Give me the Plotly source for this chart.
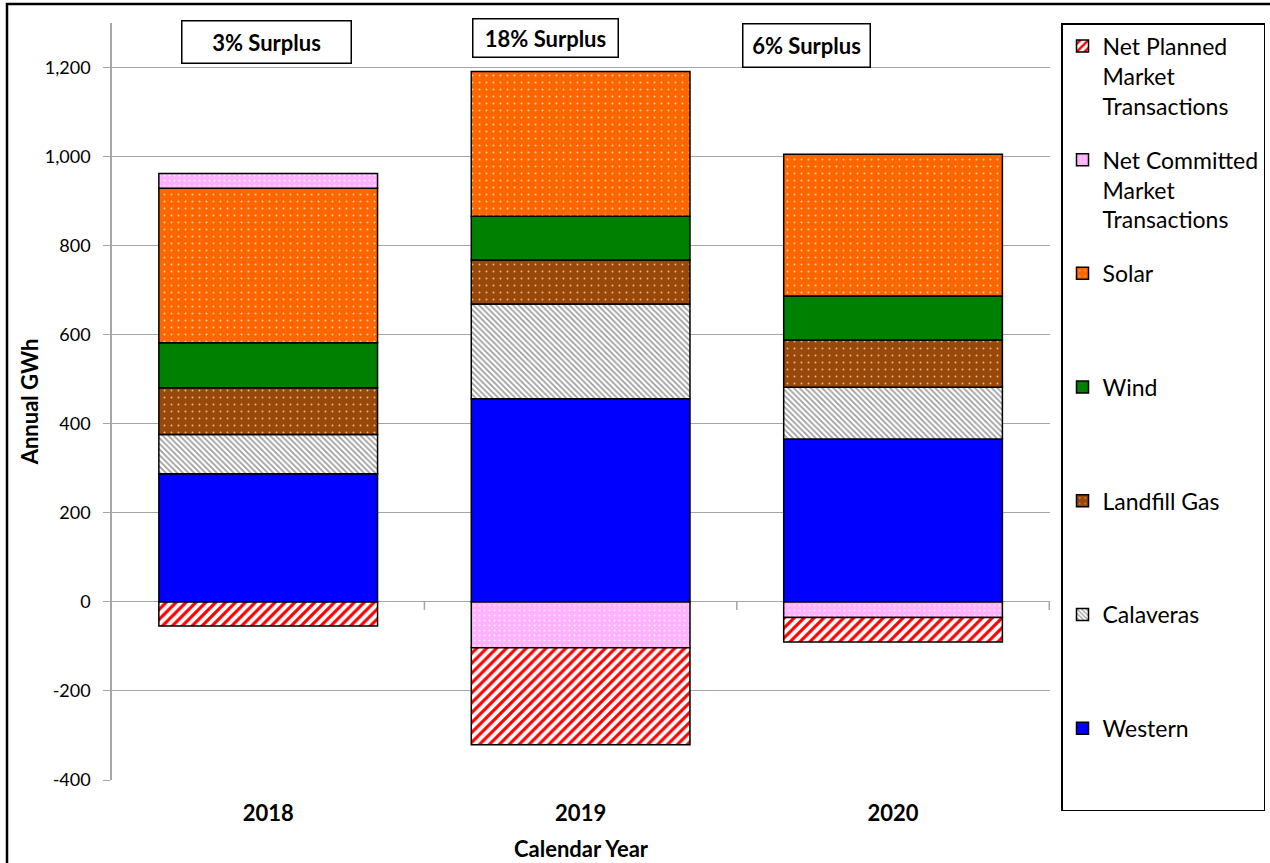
import plotly.graph_objects as go

years = ["2018", "2019", "2020"]

western = [288, 456, 366]
calaveras = [88, 213, 116]
landfill_gas = [105, 99, 106]
wind = [101, 98, 99]
solar = [347, 325, 318]
net_committed = [33, -103, -35]
net_planned = [-54, -218, -55]

surplus_labels = ["3% Surplus", "18% Surplus", "6% Surplus"]

y_tickvals = [-400, -200, 0, 200, 400, 600, 800, 1000, 1200]
y_ticktext = ["-400", "-200", "0", "200", "400", "600", "800", "1,000", "1,200"]

FONT = "Lato"
NB = "\u00a0"
PAD = "<br>" + NB + "<br>" + NB

series = [
    ("Western" + PAD, western,
     dict(color="#0000FF")),
    ("Calaveras" + PAD, calaveras,
     dict(color="#FFFFFF", pattern=dict(shape="\\", fgcolor="#9A9A9A", bgcolor="#FFFFFF", size=4, solidity=0.4, fillmode="replace"))),
    ("Landfill Gas" + PAD, landfill_gas,
     dict(color="#984808", pattern=dict(shape=".", fgcolor="#E8B890", bgcolor="#984808", size=7, solidity=0.06, fillmode="replace"))),
    ("Wind" + PAD, wind,
     dict(color="#008000")),
    ("Solar" + PAD, solar,
     dict(color="#FF6600", pattern=dict(shape=".", fgcolor="#FFD0A0", bgcolor="#FF6600", size=7, solidity=0.06, fillmode="replace"))),
    ("Net Committed<br>Market<br>Transactions", net_committed,
     dict(color="#FFB0FF", pattern=dict(shape=".", fgcolor="#FFE6FF", bgcolor="#FFB0FF", size=5, solidity=0.15, fillmode="replace"))),
    ("Net Planned<br>Market<br>Transactions", net_planned,
     dict(color="#FFFFFF", pattern=dict(shape="/", fgcolor="#FF0000", bgcolor="#FFFFFF", size=7, solidity=0.45, fillmode="replace"))),
]

fig = go.Figure()
n = len(series)
for i, (name, vals, marker) in enumerate(series):
    m = dict(marker)
    m["line"] = dict(color="#000000", width=1.5)
    fig.add_trace(go.Bar(
        x=years, y=vals, name=name, marker=m, legendgroup="g%d" % i,
        legendrank=n - i, width=0.7,
    ))

W, H = 1270, 863
L, R, T, B = 112, 220, 23, 83
pw, ph = W - L - R, H - T - B

# surplus label boxes
label_pos = [(266, 42), (545, 38), (806, 45)]
box_sizes = [(166, 39), (142, 35), (124, 40)]
for (px, py), txt, (bw, bh) in zip(label_pos, surplus_labels, box_sizes):
    fig.add_annotation(
        x=(px - L) / pw, y=(H - B - py) / ph, xref="paper", yref="paper",
        text="<b>%s</b>" % txt, showarrow=False,
        font=dict(family=FONT, size=22, color="#000000"),
        bordercolor="#000000", borderwidth=1.5, bgcolor="#FFFFFF",
        width=bw, height=bh, xanchor="center", yanchor="middle",
    )

# category boundary ticks on the zero line
for xb in [0.5, 1.5, 2.5]:
    fig.add_shape(type="line", xref="x", yref="y", x0=xb, x1=xb, y0=0, y1=-18,
                  line=dict(color="#A6A6A6", width=1.5))

# outer frame
fig.add_shape(type="rect", xref="paper", yref="paper",
              x0=(7 - L) / pw, x1=1.4, y0=-0.2, y1=(H - B - 4) / ph,
              line=dict(color="#000000", width=2.5), layer="below")

fig.update_layout(
    width=W, height=H,
    margin=dict(l=L, r=R, t=T, b=B, autoexpand=False),
    paper_bgcolor="#FFFFFF", plot_bgcolor="#FFFFFF",
    barmode="relative",
    font=dict(family=FONT, size=18, color="#000000"),
    showlegend=True,
    legend=dict(
        x=(1061 - L) / pw, y=1.0, xanchor="left", yanchor="top",
        traceorder="grouped", tracegroupgap=21,
        valign="top", maxheight=850,
        bordercolor="#000000", borderwidth=1.5, bgcolor="#FFFFFF",
        font=dict(family=FONT, size=23, color="#000000"),
        itemwidth=30,
    ),
    xaxis=dict(
        type="category", showgrid=False, showline=False, ticks="",
        automargin=False, ticklabelstandoff=18,
        tickfont=dict(family=FONT, size=22, color="#000000", weight="bold"),
        title=dict(text="<b>Calendar Year</b>", font=dict(family=FONT, size=22), standoff=16),
    ),
    yaxis=dict(
        range=[-400, 1300], tickmode="array", tickvals=y_tickvals, ticktext=y_ticktext,
        showgrid=True, gridcolor="#A6A6A6", gridwidth=1, automargin=False,
        zeroline=False, showline=True, linecolor="#A6A6A6", linewidth=1.5,
        ticks="outside", ticklen=7, tickcolor="#A6A6A6", ticklabelstandoff=9,
        tickfont=dict(family=FONT, size=18, color="#000000"),
        title=dict(text="<b>Annual GWh</b>", font=dict(family=FONT, size=22), standoff=0),
    ),
)

fig.write_html("out.html")
